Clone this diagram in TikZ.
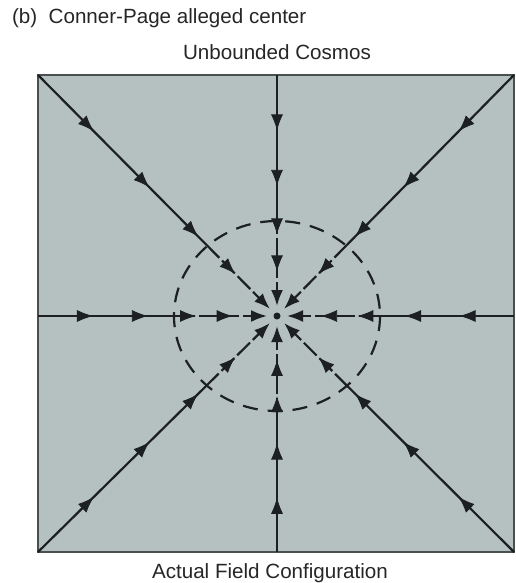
\documentclass[tikz,border=0pt]{standalone}
\usepackage{fontspec}
\setmainfont{Liberation Sans}
\usetikzlibrary{arrows.meta,calc,decorations.markings}
\definecolor{cosmosfill}{HTML}{B5C1C1}
\definecolor{fieldline}{HTML}{1C2020}
\definecolor{frameline}{HTML}{4A4F4F}

\begin{document}
\begin{tikzpicture}[x=0.5pt, y=-0.5pt,
  every node/.style={font=\fontsize{10.3}{12}\selectfont, text=black!85},
  ray/.style={fieldline, line width=1.1pt},
  innerray/.style={ray, dash pattern=on 9pt off 2pt},
  tip/.style={-{Latex[length=8pt,width=6pt]}},
  flux/.style={postaction={decorate}, decoration={markings,
    mark=at position 0.24 with {\arrow[fieldline]{Latex[length=8pt,width=6pt]}},
    mark=at position 0.48 with {\arrow[fieldline]{Latex[length=8pt,width=6pt]}},
    mark=at position 0.69 with {\arrow[fieldline]{Latex[length=8pt,width=6pt]}},
    mark=at position 0.85 with {\arrow[fieldline]{Latex[length=8pt,width=6pt]}}}}]
\useasboundingbox (0,0) rectangle (515,583);

% region and labels
\draw[fill=cosmosfill, draw=frameline, line width=1.2pt] (38,75) rectangle (514,552);
\node[anchor=west] (title) at (5,18) {(b)\ \ Conner-Page alleged center};
\node (top) at (277,52) {Unbounded Cosmos};
\node (bottom) at (270,573) {Actual Field Configuration};

% alleged center and its sphere
\coordinate (c) at (277,316);
\draw[fieldline, line width=1.1pt, dash pattern=on 7.5pt off 5pt] (c) ellipse [x radius=103, y radius=95];
\fill[fieldline] (c) circle [radius=3.5];

% field lines, all pointing inward
\coordinate (nw) at (38,75);
\coordinate (n) at (277,75);
\coordinate (ne) at (514,75);
\coordinate (e) at (514,316);
\coordinate (se) at (514,552);
\coordinate (s) at (277,552);
\coordinate (sw) at (38,552);
\coordinate (w) at (38,316);
\foreach \p in {nw,n,ne,e,se,s,sw,w}{
  \coordinate (in\p) at ($(c)!50pt!(\p)$);
  \coordinate (end\p) at ($(c)!5pt!(\p)$);
  \draw[ray] (\p) -- (in\p);
  \draw[innerray, tip] (in\p) -- (end\p);
  \path[flux] (\p) -- (end\p);
}
\end{tikzpicture}
\end{document}
